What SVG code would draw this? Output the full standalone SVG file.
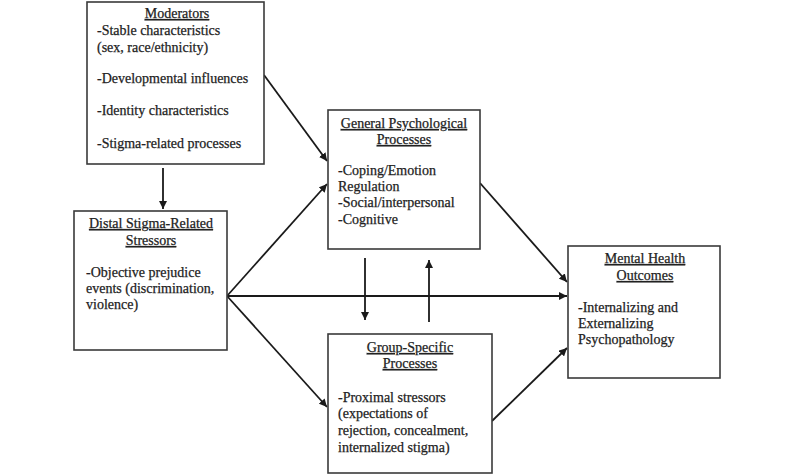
<svg xmlns="http://www.w3.org/2000/svg" width="795" height="474" viewBox="0 0 795 474">
<style>
.box{fill:#fff;stroke:#3a3a3a;stroke-width:1.6}
text{font-family:"Liberation Serif","Times New Roman",serif;font-size:14px;fill:#222;stroke:#222;stroke-width:0.25}
.t{text-anchor:middle;text-decoration:underline}
.c{stroke:#1a1a1a;stroke-width:1.8;fill:none;marker-end:url(#ah)}
</style>
<defs>
<marker id="ah" viewBox="0 0 10 10" refX="10" refY="5" markerWidth="8" markerHeight="8" markerUnits="userSpaceOnUse" orient="auto">
<path d="M0,0 L10,5 L0,10 z" fill="#1a1a1a"/>
</marker>
</defs>
<rect width="795" height="474" fill="#fff"/>
<g id="connectors">
<line class="c" x1="264" y1="75" x2="327" y2="161"/>
<line class="c" x1="163" y1="168" x2="163" y2="209"/>
<line class="c" x1="227" y1="296" x2="327" y2="184"/>
<line class="c" x1="227" y1="296" x2="567" y2="296"/>
<line class="c" x1="227" y1="296" x2="327" y2="407"/>
<line class="c" x1="480" y1="183" x2="567" y2="282"/>
<line class="c" x1="492" y1="421" x2="567" y2="348"/>
<line class="c" x1="365" y1="258" x2="365" y2="320"/>
<line class="c" x1="429" y1="322" x2="429" y2="260"/>
</g>
<g id="moderators">
<rect class="box" x="87" y="2" width="177" height="162"/>
<text class="t" x="177" y="18">Moderators</text>
<text x="97" y="35">-Stable characteristics</text>
<text x="97" y="52">(sex, race/ethnicity)</text>
<text x="97" y="83">-Developmental influences</text>
<text x="97" y="115">-Identity characteristics</text>
<text x="97" y="148">-Stigma-related processes</text>
</g>
<g id="distal">
<rect class="box" x="74" y="211" width="153" height="139"/>
<text class="t" x="151" y="228">Distal Stigma-Related</text>
<text class="t" x="151" y="245">Stressors</text>
<text x="86" y="277">-Objective prejudice</text>
<text x="86" y="293">events (discrimination,</text>
<text x="86" y="309">violence)</text>
</g>
<g id="general">
<rect class="box" x="328" y="110" width="152" height="139"/>
<text class="t" x="404" y="128">General Psychological</text>
<text class="t" x="404" y="144">Processes</text>
<text x="338" y="175">-Coping/Emotion</text>
<text x="338" y="191">Regulation</text>
<text x="338" y="207">-Social/interpersonal</text>
<text x="338" y="224">-Cognitive</text>
</g>
<g id="group">
<rect class="box" x="328" y="334" width="164" height="139"/>
<text class="t" x="410" y="352">Group-Specific</text>
<text class="t" x="410" y="368">Processes</text>
<text x="338" y="402">-Proximal stressors</text>
<text x="338" y="418">(expectations of</text>
<text x="338" y="435">rejection, concealment,</text>
<text x="338" y="452">internalized stigma)</text>
</g>
<g id="mental">
<rect class="box" x="568" y="246" width="152" height="132"/>
<text class="t" x="645" y="263">Mental Health</text>
<text class="t" x="645" y="280">Outcomes</text>
<text x="578" y="312">-Internalizing and</text>
<text x="578" y="328">Externalizing</text>
<text x="578" y="344">Psychopathology</text>
</g>
</svg>
